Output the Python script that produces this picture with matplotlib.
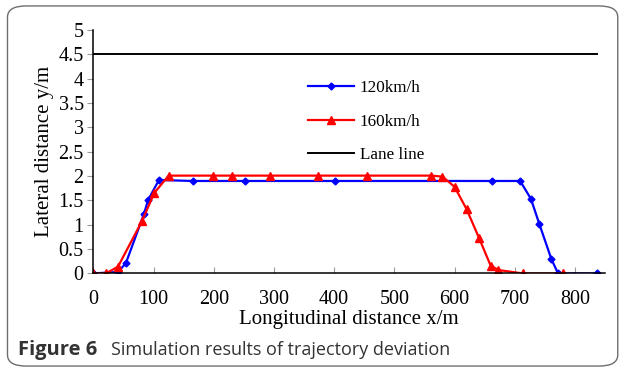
import matplotlib
matplotlib.use("Agg")
from matplotlib import pyplot as plt
from matplotlib.patches import FancyBboxPatch

# data
x_120 = [0, 41, 54, 84, 91, 109, 165, 252, 401, 662, 709, 727, 741, 761, 772, 836]
y_120 = [0, 0.03, 0.21, 1.22, 1.51, 1.92, 1.90, 1.90, 1.90, 1.90, 1.90, 1.53, 1.01, 0.29, 0.0, 0.0]

x_160 = [0, 21, 41, 81, 101, 125, 198, 231, 293, 374, 454, 561, 580, 600, 620, 641, 660, 673, 713, 781]
y_160 = [0, 0, 0.14, 1.08, 1.65, 2.01, 2.01, 2.01, 2.01, 2.01, 2.01, 2.01, 1.99, 1.78, 1.32, 0.72, 0.16, 0.07, 0.0, 0.0]

lane_x = [0, 836]
lane_y = [4.5, 4.5]

x_ticks = [0, 100, 200, 300, 400, 500, 600, 700, 800]
y_ticks = [0, 0.5, 1, 1.5, 2, 2.5, 3, 3.5, 4, 4.5, 5]
y_tick_labels = ["0", "0.5", "1", "1.5", "2", "2.5", "3", "3.5", "4", "4.5", "5"]

serif = ["Liberation Serif", "DejaVu Serif"]
sans = ["Open Sans", "DejaVu Sans"]

fig = plt.figure(figsize=(6.24, 3.72), dpi=100)

#   rounded frame round the whole figure
frame = FancyBboxPatch((0.012, 0.016), 0.978, 0.968, boxstyle="round,pad=0,rounding_size=0.03",
                       transform=fig.transFigure, facecolor="none", edgecolor="#6e6e6e",
                       linewidth=1.0, zorder=-1)
fig.patches.append(frame)

ax = fig.add_axes([0.1496, 0.265, 0.820, 0.654])
ax.patch.set_alpha(0)

ax.plot(x_120, y_120, color="blue", linewidth=1.6, marker="D", markersize=3.5, label="120km/h")
ax.plot(x_160, y_160, color="red", linewidth=1.6, marker="^", markersize=5.5, label="160km/h")
ax.plot(lane_x, lane_y, color="black", linewidth=1.4, label="Lane line")

ax.set_xlim(0, 850)
ax.set_ylim(0, 5)
ax.set_xticks(x_ticks)
ax.set_yticks(y_ticks, y_tick_labels)

for side in ["top", "right"]:
    ax.spines[side].set_visible(False)
ax.spines["left"].set_linewidth(1.1)
ax.spines["bottom"].set_linewidth(1.1)

ax.tick_params(axis="x", direction="in", length=4, color="#999999", pad=12,
               labelsize=14.5, labelfontfamily=serif)
ax.tick_params(axis="y", direction="out", length=4, color="#999999", pad=3,
               labelsize=14.5, labelfontfamily=serif)

ax.set_xlabel("Longitudinal distance x/m", fontsize=15, family=serif, labelpad=1)
ax.set_ylabel("Lateral distance y/m", fontsize=15, family=serif, labelpad=3)

ax.legend(loc="upper left", bbox_to_anchor=(0.39, 0.86), frameon=False,
          prop={"family": serif, "size": 12.3}, handlelength=2.7,
          labelspacing=1.05, handletextpad=0.3)

#   caption under the chart
fig.text(0.029, 0.045, "Figure 6", fontsize=14.5, fontweight="bold", family=sans, color="#333333")
fig.text(0.178, 0.045, "Simulation results of trajectory deviation", fontsize=13,
         family=sans, color="#333333")

fig.savefig("out.png", dpi=100)
